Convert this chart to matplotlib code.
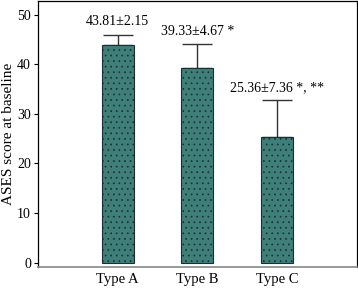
import matplotlib
matplotlib.use("Agg")
import matplotlib.pyplot as plt

categories = ["Type A", "Type B", "Type C"]
means = [43.81, 39.33, 25.36]
sds = [2.15, 4.67, 7.36]
labels = ["43.81\u00b12.15", "39.33\u00b14.67 *", "25.36\u00b17.36 *, **"]
yticks = [0, 10, 20, 30, 40, 50]

plt.rcParams['font.family'] = ['Liberation Serif', 'DejaVu Serif']
plt.rcParams['hatch.linewidth'] = 0.5
plt.rcParams['hatch.color'] = '#1e2e2e'

fig = plt.figure(figsize=(3.58, 2.89), dpi=100)
ax = fig.add_axes([0.106, 0.076, 0.891, 0.921])

x = list(range(len(categories)))
bars = ax.bar(x, means, width=0.4, color='#3e7f7a', edgecolor='#1e2e2e',
              linewidth=0.8, hatch='...', zorder=2)
ax.errorbar(x, means, yerr=[[0]*3, sds], fmt='none', ecolor='#333333',
            elinewidth=1.0, capsize=11, capthick=1.0, zorder=1)

for xi, m, s, lab in zip(x, means, sds, labels):
    ax.text(xi, m + s + 1.3, lab, ha='center', va='bottom', fontsize=10)

ax.set_xlim(-1, 3)
ax.set_ylim(-0.9, 52.8)
ax.set_yticks(yticks)
ax.set_xticks(x)
ax.set_xticklabels(categories, fontsize=10.5)
ax.tick_params(axis='x', length=0, pad=4)
ax.tick_params(axis='y', length=3, width=0.8, labelsize=10, pad=2)
ax.set_ylabel("ASES score at baseline", fontsize=11)
ax.yaxis.set_label_coords(-0.072, 0.5)
for side in ['top', 'right', 'left']:
    ax.spines[side].set_linewidth(0.9)
ax.spines['bottom'].set_color('#888888')
ax.spines['bottom'].set_linewidth(1.2)

fig.savefig("out.png", dpi=100)
